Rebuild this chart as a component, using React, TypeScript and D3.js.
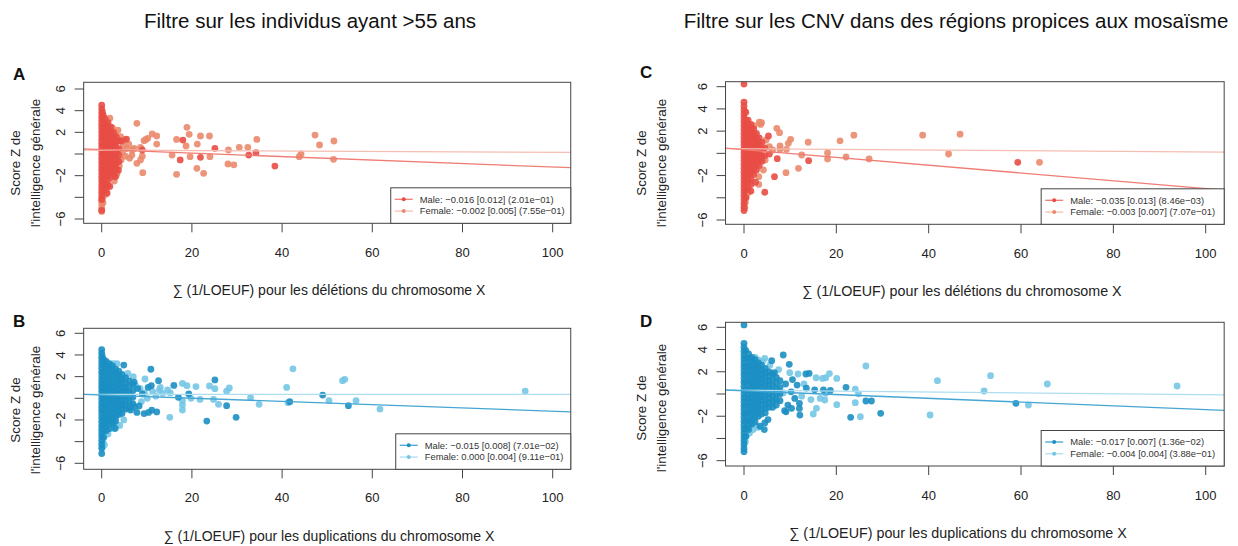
import React from "react";
import * as d3 from "d3";

type Pt = [number, number];

// ---------- Panel A: deletions, individuals older than 55 ----------
const delMaleA: Pt[] = [
  [0, 4.5], [0, 4.15], [0, 3.8], [0, 3.45], [0, 3.1], [0, 2.75], [0, 2.4], [0, 2.05], [0, 1.7], [0, 1.35],
  [0, 1.0], [0, 0.65], [0, 0.3], [0, -0.05], [0, -0.4], [0, -0.75], [0, -1.1], [0, -1.45], [0, -1.8], [0, -2.15],
  [0, -2.5], [0, -2.85], [0, -3.2], [0, -3.55], [0, -3.9], [0, -4.2], [0, -5.2],
  [0.3, 3.6], [0.3, 2.9], [0.3, 2.2], [0.3, 1.5], [0.3, 0.8], [0.3, 0.1], [0.3, -0.6], [0.3, -1.3], [0.3, -2.0], [0.3, -2.7], [0.3, -3.4],
  [0.8, 3.2], [0.8, 2.8], [0.8, 2.4], [0.8, 2.0], [0.8, 1.6], [0.8, 1.2], [0.8, 0.8], [0.8, 0.4], [0.8, 0.0], [0.8, -0.4],
  [0.8, -0.8], [0.8, -1.2], [0.8, -1.6], [0.8, -2.0], [0.8, -2.4], [0.8, -2.8], [0.8, -3.3],
  [1.4, 2.9], [1.4, 2.5], [1.4, 2.1], [1.4, 1.7], [1.4, 1.3], [1.4, 0.9], [1.4, 0.5], [1.4, 0.1], [1.4, -0.3], [1.4, -0.7],
  [1.4, -1.1], [1.4, -1.5], [1.4, -1.9], [1.4, -2.4], [1.4, -2.9],
  [2.0, 2.5], [2.0, 2.0], [2.0, 1.6], [2.0, 1.2], [2.0, 0.8], [2.0, 0.4], [2.0, 0.0], [2.0, -0.4], [2.0, -0.8], [2.0, -1.2], [2.0, -1.6], [2.0, -2.1],
  [2.6, 2.0], [2.6, 1.5], [2.6, 1.1], [2.6, 0.7], [2.6, 0.3], [2.6, -0.1], [2.6, -0.5], [2.6, -0.9], [2.6, -1.4], [2.6, -1.9],
  [3.2, 1.6], [3.2, 1.1], [3.2, 0.6], [3.2, 0.1], [3.2, -0.4], [3.2, -0.9], [3.2, -1.4],
  [3.8, 1.2], [3.8, 0.5], [3.8, -0.1], [3.8, -0.7],
  [5.5, 1.38], [9.0, 0.37], [3.7, -1.5], [3.0, -2.1], [1.8, -3.0], [1.2, -3.6], [4.4, 1.2],
  [18.0, 1.29], [17.4, -0.55], [21.9, -0.31], [25.1, 0.52], [32.6, -0.1], [34.2, 0.12], [38.4, -1.11],
];

const delFemaleA: Pt[] = [
  [0, -4.3], [0, -4.6], [0, -4.95], [0, -5.3], [0.3, -4.0], [0.3, -4.5], [0.2, 3.9], [0.5, 3.4],
  [1.0, -3.7], [1.8, 3.3], [2.6, 1.4], [2.4, 2.4], [3.0, 1.9], [3.4, -1.8], [4.3, -0.55], [3.9, -1.1], [3.2, -2.0], [1.0, -2.8],
  [4.8, 0.8], [5.5, 0.5], [6.8, 0.37], [7.2, 0.52], [4.6, 0.2], [5.2, -0.2], [6.0, 0.9], [6.2, -0.4], [4.2, 1.6], [3.6, 2.2],
  [5.0, 1.3], [2.8, -2.5], [9.8, 1.35], [10.2, 1.45], [8.6, 0.6], [9.0, -0.2],
  [7.8, 2.83], [11.2, 1.85], [12.2, 1.66], [12.2, 0.92], [9.4, 1.23], [8.6, -0.55], [7.8, -0.86], [9.1, -1.72], [6.7, -0.1],
  [16.6, 1.35], [18.9, 2.46], [19.4, 1.82], [18.7, 0.74], [21.9, 1.66], [23.9, 1.66], [21.2, 0.92], [15.6, -0.1], [19.6, -0.25],
  [24.0, -0.25], [21.1, -1.32], [22.6, -1.78], [16.6, -1.88], [28.1, 0.37], [30.5, 0.62], [32.4, 0.62], [34.4, 1.35],
  [28.0, -0.92], [29.3, -1.0], [44.2, 0.0], [43.8, -0.25], [47.3, 1.75], [48.3, 0.83], [51.5, 1.2], [51.4, -0.49],
];

// ---------- Panel B: duplications, individuals older than 55 ----------
const dupMaleB: Pt[] = [
  [0, 4.5], [0, 4.15], [0, 3.8], [0, 3.45], [0, 3.1], [0, 2.75], [0, 2.4], [0, 2.05], [0, 1.7], [0, 1.35],
  [0, 1.0], [0, 0.65], [0, 0.3], [0, -0.05], [0, -0.4], [0, -0.75], [0, -1.1], [0, -1.45], [0, -1.8], [0, -2.15],
  [0, -2.5], [0, -2.85], [0, -3.2], [0, -3.55], [0, -3.9], [0, -4.25], [0, -4.6], [0, -5.1],
  [0.4, 3.6], [0.4, 3.0], [0.4, 2.4], [0.4, 1.8], [0.4, 1.2], [0.4, 0.6], [0.4, 0.0], [0.4, -0.6], [0.4, -1.2], [0.4, -1.8], [0.4, -2.4], [0.4, -3.0], [0.4, -3.6],
  [1.0, 3.4], [1.0, 3.0], [1.0, 2.6], [1.0, 2.2], [1.0, 1.8], [1.0, 1.4], [1.0, 1.0], [1.0, 0.6], [1.0, 0.2], [1.0, -0.2],
  [1.0, -0.6], [1.0, -1.0], [1.0, -1.4], [1.0, -1.8], [1.0, -2.2], [1.0, -2.6], [1.0, -3.0],
  [1.7, 3.2], [1.7, 2.8], [1.7, 2.4], [1.7, 2.0], [1.7, 1.6], [1.7, 1.2], [1.7, 0.8], [1.7, 0.4], [1.7, 0.0], [1.7, -0.4],
  [1.7, -0.8], [1.7, -1.2], [1.7, -1.6], [1.7, -2.0], [1.7, -2.4], [1.7, -2.8],
  [2.4, 3.0], [2.4, 2.6], [2.4, 2.2], [2.4, 1.8], [2.4, 1.4], [2.4, 1.0], [2.4, 0.6], [2.4, 0.2], [2.4, -0.2], [2.4, -0.6],
  [2.4, -1.0], [2.4, -1.4], [2.4, -1.8], [2.4, -2.2],
  [3.1, 2.7], [3.1, 2.3], [3.1, 1.9], [3.1, 1.5], [3.1, 1.1], [3.1, 0.7], [3.1, 0.3], [3.1, -0.1], [3.1, -0.5], [3.1, -0.9],
  [3.1, -1.3], [3.1, -1.7], [3.1, -2.1],
  [3.8, 2.5], [3.8, 2.1], [3.8, 1.7], [3.8, 1.3], [3.8, 0.9], [3.8, 0.5], [3.8, 0.1], [3.8, -0.3], [3.8, -0.7], [3.8, -1.1], [3.8, -1.5],
  [4.5, 2.2], [4.5, 1.8], [4.5, 1.4], [4.5, 1.0], [4.5, 0.6], [4.5, 0.2], [4.5, -0.2], [4.5, -0.6], [4.5, -1.0], [4.5, -1.4],
  [5.3, 1.9], [5.3, 1.4], [5.3, 1.0], [5.3, 0.6], [5.3, 0.2], [5.3, -0.2], [5.3, -0.6], [5.3, -1.0],
  [6.1, 1.6], [6.1, 1.1], [6.1, 0.6], [6.1, 0.1], [6.1, -0.4], [6.1, -0.9],
  [6.9, 1.3], [6.9, 0.7], [6.9, 0.1], [6.9, -0.5],
  [3.0, -2.77], [2.6, -2.3], [6.4, -1.08], [7.2, -0.77], [9.4, -1.41], [11.1, -1.1], [12.2, -1.26], [10.3, 1.0], [7.2, 1.5],
  [4.9, 3.07], [10.9, 2.68], [12.6, 1.63], [11.0, 1.17], [16.0, 1.19], [8.3, -0.7], [8.0, 0.9], [9.0, 0.4], [7.8, -1.3], [10.4, -1.3],
  [25.1, 1.7], [19.3, 0.4], [17.0, 0.09], [27.7, -0.68], [23.3, -2.1], [29.8, -1.76], [41.7, -0.31], [49.0, 0.3], [54.7, -0.68],
];

const dupFemaleB: Pt[] = [
  [0.2, 3.9], [0.5, 3.3], [2.6, 3.2], [3.4, 3.2], [1.5, 3.0], [0.3, -4.0], [0.5, -3.6], [1.4, -3.3], [2.8, -2.8], [4.9, -2.0],
  [4.0, -2.5], [0.2, -4.5], [0.6, -4.3],
  [8.5, 0.92], [11.3, 0.62], [12.8, 0.77], [13.5, 0.46], [14.6, 0.77], [10.1, 0.0], [9.6, 1.78], [7.5, 1.2], [6.5, 0.3],
  [8.8, -0.3], [7.0, 2.0], [5.8, 2.3], [13.0, 1.0], [15.2, 0.5], [12.0, 0.2], [9.5, 0.5],
  [17.9, 1.37], [18.9, 1.17], [20.9, 1.08], [23.9, 1.14], [25.1, 0.89], [28.3, 0.96], [27.7, 0.65], [19.8, 0.0], [21.8, -0.1],
  [17.9, -0.22], [17.9, -0.62], [17.9, -1.08], [24.8, -0.1], [25.9, -0.56], [15.1, -1.76], [33.0, 0.06], [34.9, -0.56],
  [41.0, 1.0], [42.4, 2.72], [41.3, -0.4], [50.4, -0.22], [53.4, 1.63], [53.9, 1.75], [56.4, -0.22], [61.7, -0.99], [93.9, 0.67],
];

// ---------- Panel C: deletions, mosaicism-prone regions ----------
const delMaleC: Pt[] = [
  [0, 6.24], [0, 4.6], [0, 4.25], [0, 3.9], [0, 3.55], [0, 3.2], [0, 2.85], [0, 2.5], [0, 2.15], [0, 1.8], [0, 1.45],
  [0, 1.1], [0, 0.75], [0, 0.4], [0, 0.05], [0, -0.3], [0, -0.65], [0, -1.0], [0, -1.35], [0, -1.7], [0, -2.05],
  [0, -2.4], [0, -2.75], [0, -3.1], [0, -3.45], [0, -3.8], [0, -4.15], [0, -4.5], [0, -4.85], [0, -5.15],
  [0.4, 3.7], [0.4, 3.0], [0.4, 2.3], [0.4, 1.6], [0.4, 0.9], [0.4, 0.2], [0.4, -0.5], [0.4, -1.2], [0.4, -1.9], [0.4, -2.6], [0.4, -3.3], [0.4, -4.0],
  [0.9, 3.0], [0.9, 2.6], [0.9, 2.2], [0.9, 1.8], [0.9, 1.4], [0.9, 1.0], [0.9, 0.6], [0.9, 0.2], [0.9, -0.2], [0.9, -0.6],
  [0.9, -1.0], [0.9, -1.4], [0.9, -1.8], [0.9, -2.2], [0.9, -2.6], [0.9, -3.1],
  [1.5, 2.6], [1.5, 2.2], [1.5, 1.8], [1.5, 1.4], [1.5, 1.0], [1.5, 0.6], [1.5, 0.2], [1.5, -0.2], [1.5, -0.6], [1.5, -1.0],
  [1.5, -1.4], [1.5, -1.8], [1.5, -2.3], [1.5, -2.8],
  [2.1, 2.2], [2.1, 1.8], [2.1, 1.4], [2.1, 1.0], [2.1, 0.6], [2.1, 0.2], [2.1, -0.2], [2.1, -0.6], [2.1, -1.0], [2.1, -1.4], [2.1, -1.9],
  [2.7, 1.8], [2.7, 1.4], [2.7, 1.0], [2.7, 0.6], [2.7, 0.2], [2.7, -0.2], [2.7, -0.6], [2.7, -1.0], [2.7, -1.5],
  [3.3, 1.4], [3.3, 0.9], [3.3, 0.4], [3.3, -0.1], [3.3, -0.6], [3.3, -1.1],
  [3.9, 1.0], [3.9, 0.4], [3.9, -0.2], [3.9, -0.7], [4.5, 0.5], [4.5, -0.2],
  [5.3, 1.56], [5.5, -0.06], [7.2, -0.48], [14.0, -0.66], [6.6, -2.1], [4.5, -3.5], [1.5, -3.4], [2.5, -2.6], [59.3, -0.81],
];

const delFemaleC: Pt[] = [
  [3.3, 2.8], [3.6, 2.6], [2.2, 2.5], [3.8, 2.76], [7.1, 2.25], [7.7, 1.86], [10.1, 1.26], [9.6, 0.9], [7.8, 0.66], [7.8, 0.36],
  [9.2, 0.36], [12.5, -0.15], [13.9, 1.0], [11.8, -1.35], [9.1, -1.74], [3.2, -2.8], [3.2, -2.1], [4.8, 1.2], [5.5, 0.6],
  [6.2, 0.3], [4.2, -1.5], [4.6, -0.6], [0.3, -4.4], [0.2, -4.9], [0.5, -3.9], [1.0, -3.5],
  [20.8, 1.13], [23.8, 1.64], [18.1, 0.03], [18.1, -0.5], [22.1, -0.33], [27.1, -0.5], [38.7, 1.64], [46.8, 1.73],
  [44.3, -0.06], [64.0, -0.81],
];

// ---------- Panel D: duplications, mosaicism-prone regions ----------
const dupMaleD: Pt[] = [
  [0, 6.21], [0, 4.56], [0, 4.2], [0, 3.85], [0, 3.5], [0, 3.15], [0, 2.8], [0, 2.45], [0, 2.1], [0, 1.75], [0, 1.4],
  [0, 1.05], [0, 0.7], [0, 0.35], [0, 0.0], [0, -0.35], [0, -0.7], [0, -1.05], [0, -1.4], [0, -1.75], [0, -2.1],
  [0, -2.45], [0, -2.8], [0, -3.15], [0, -3.5], [0, -3.85], [0, -4.2], [0, -4.55], [0, -4.9], [0, -5.19],
  [0.4, 3.9], [0.4, 3.2], [0.4, 2.5], [0.4, 1.8], [0.4, 1.1], [0.4, 0.4], [0.4, -0.3], [0.4, -1.0], [0.4, -1.7], [0.4, -2.4], [0.4, -3.1], [0.4, -3.8],
  [1.0, 3.6], [1.0, 3.2], [1.0, 2.8], [1.0, 2.4], [1.0, 2.0], [1.0, 1.6], [1.0, 1.2], [1.0, 0.8], [1.0, 0.4], [1.0, 0.0],
  [1.0, -0.4], [1.0, -0.8], [1.0, -1.2], [1.0, -1.6], [1.0, -2.0], [1.0, -2.4], [1.0, -2.8], [1.0, -3.2],
  [1.7, 3.3], [1.7, 2.9], [1.7, 2.5], [1.7, 2.1], [1.7, 1.7], [1.7, 1.3], [1.7, 0.9], [1.7, 0.5], [1.7, 0.1], [1.7, -0.3],
  [1.7, -0.7], [1.7, -1.1], [1.7, -1.5], [1.7, -1.9], [1.7, -2.3], [1.7, -2.7],
  [2.4, 3.1], [2.4, 2.7], [2.4, 2.3], [2.4, 1.9], [2.4, 1.5], [2.4, 1.1], [2.4, 0.7], [2.4, 0.3], [2.4, -0.1], [2.4, -0.5],
  [2.4, -0.9], [2.4, -1.3], [2.4, -1.7], [2.4, -2.1], [2.4, -2.5],
  [3.1, 2.8], [3.1, 2.4], [3.1, 2.0], [3.1, 1.6], [3.1, 1.2], [3.1, 0.8], [3.1, 0.4], [3.1, 0.0], [3.1, -0.4], [3.1, -0.8],
  [3.1, -1.2], [3.1, -1.6], [3.1, -2.0],
  [3.8, 2.6], [3.8, 2.2], [3.8, 1.8], [3.8, 1.4], [3.8, 1.0], [3.8, 0.6], [3.8, 0.2], [3.8, -0.2], [3.8, -0.6], [3.8, -1.0], [3.8, -1.4], [3.8, -1.8],
  [4.6, 2.3], [4.6, 1.9], [4.6, 1.5], [4.6, 1.1], [4.6, 0.7], [4.6, 0.3], [4.6, -0.1], [4.6, -0.5], [4.6, -0.9], [4.6, -1.3], [4.6, -1.7],
  [5.4, 2.0], [5.4, 1.6], [5.4, 1.2], [5.4, 0.8], [5.4, 0.4], [5.4, 0.0], [5.4, -0.4], [5.4, -0.8], [5.4, -1.2],
  [6.2, 1.8], [6.2, 1.3], [6.2, 0.8], [6.2, 0.3], [6.2, -0.2], [6.2, -0.7], [6.2, -1.2],
  [7.0, 1.5], [7.0, 1.0], [7.0, 0.5], [7.0, 0.0], [7.0, -0.5], [7.0, -1.0],
  [7.8, 1.2], [7.8, 0.6], [7.8, 0.0], [7.8, -0.6],
  [8.5, 3.51], [9.8, 2.67], [6.0, 3.0], [6.6, 1.92], [13.4, 1.8], [14.1, 1.85], [22.1, 0.6], [18.7, 0.32], [17.2, 0.38],
  [15.3, 0.38], [13.5, 0.53], [26.4, -0.63], [27.6, -0.63], [29.6, -1.74], [23.1, -2.1], [58.9, -0.84], [9.0, 0.9],
  [10.2, 0.2], [11.0, -0.4], [9.5, -1.0], [12.0, -1.3], [8.8, -1.5], [10.5, 1.3], [11.5, 0.8], [4.5, -2.6], [3.5, -2.9],
  [5.2, -2.3], [12.0, -0.84], [10.3, -1.29], [12.1, -1.9], [9.1, -1.6], [4.4, -3.2],
];

const dupFemaleD: Pt[] = [
  [3.1, 3.06], [2.4, 3.3], [4.5, 3.2], [4.0, 2.9], [9.9, 1.92], [11.7, 1.8], [17.0, 1.4], [17.7, 1.46], [18.5, 1.84], [20.1, 1.4],
  [15.6, 1.46], [24.1, 0.44], [24.8, 0.02], [26.4, 2.52], [24.1, -0.78], [25.2, -2.04], [20.1, -0.96], [16.5, -0.4], [14.5, -0.5],
  [15.0, -1.8], [15.7, -1.29], [17.5, -0.54], [17.7, 0.06], [13.0, 0.9], [12.5, -0.2], [8.5, 0.1], [7.5, 2.2], [6.5, -0.5],
  [2.3, -2.8], [3.0, -3.0], [0.3, -4.3], [0.5, -3.8], [1.2, -3.5], [2.0, -3.2], [5.6, 2.6],
  [40.3, -1.89], [41.9, 1.2], [52.0, 0.27], [53.4, 1.65], [61.6, -0.99], [65.7, 0.9], [93.8, 0.72],
];

// Linear fits per sex: [intercept, slope]
const fitA = { male: [0.4, -0.016] as Pt, female: [0.36, -0.002] as Pt };
const fitB = { male: [0.31, -0.015] as Pt, female: [0.37, 0.0] as Pt };
const fitC = { male: [0.33, -0.035] as Pt, female: [0.42, -0.003] as Pt };
const fitD = { male: [0.29, -0.017] as Pt, female: [0.34, -0.004] as Pt };

const legendA = ["Male: \u22120.016 [0.012] (2.01e\u221201)", "Female: \u22120.002 [0.005] (7.55e\u221201)"];
const legendB = ["Male: \u22120.015 [0.008] (7.01e\u221202)", "Female: 0.000 [0.004] (9.11e\u221201)"];
const legendC = ["Male: \u22120.035 [0.013] (8.46e\u221203)", "Female: \u22120.003 [0.007] (7.07e\u221201)"];
const legendD = ["Male: \u22120.017 [0.007] (1.36e\u221202)", "Female: \u22120.004 [0.004] (3.88e\u221201)"];

const xTicks = [0, 20, 40, 60, 80, 100];
const yTicks = [-6, -4, -2, 0, 2, 4, 6];
const yTickLabels: Record<number, string> = { 6: "6", 4: "4", 2: "2", [-2]: "\u22122", [-6]: "\u22126" };

const titles = ["Filtre sur les individus ayant >55 ans", "Filtre sur les CNV dans des r\u00e9gions propices aux mosa\u00efsme"];
const xTitleDel = "\u2211 (1/LOEUF) pour les d\u00e9l\u00e9tions du chromosome X";
const xTitleDup = "\u2211 (1/LOEUF) pour les duplications du chromosome X";
const yTitle = ["Score Z de", "l'intelligence g\u00e9n\u00e9rale"];

const FONT = "'Liberation Sans', Arial, Helvetica, sans-serif";

const redPalette = { male: "#E84C45", female: "#EA8A6D", maleLine: "#EF7D74", femaleLine: "#F6BDB2" };
const bluePalette = { male: "#1B8FC3", female: "#74C6E6", maleLine: "#45A6D3", femaleLine: "#AEDDF0" };

type Palette = typeof redPalette;

interface PanelProps {
  letter: string;
  male: Pt[];
  female: Pt[];
  fit: { male: Pt; female: Pt };
  legend: string[];
  palette: Palette;
  xTitle: string;
  // layout
  x0: number; x100: number; // pixel of x = 0 and x = 100
  yLow: number; yHigh: number; // pixel of y = -6 and y = 6
  top: number; bottom: number; // frame edges
  xTitleX: number;
  xTitleSize: number;
  letterX: number;
  letterY: number;
  yTitleX: [number, number];
  yTitleY: number;
  tickLabelOffset: number;
  legendWidth: number;
}

function Panel(p: PanelProps) {
  const x = d3.scaleLinear().domain([0, 100]).range([p.x0, p.x100]);
  const y = d3.scaleLinear().domain([-6, 6]).range([p.yLow, p.yHigh]);
  const left = x(-4);
  const right = x(104);
  const clipId = `clip-${p.letter}`;
  const fitPath = (c: Pt) =>
    d3.line<number>().x((v) => x(v)).y((v) => y(c[0] + c[1] * v))([-4, 104]) || "";
  const tick = 9;
  const lgLeft = right - p.legendWidth;
  const lgTop = p.bottom - 35.5;
  const rows = [
    { text: p.legend[0], line: p.palette.maleLine, dot: p.palette.male },
    { text: p.legend[1], line: p.palette.femaleLine, dot: p.palette.female },
  ];
  return (
    <g>
      <defs>
        <clipPath id={clipId}>
          <rect x={left} y={p.top} width={right - left} height={p.bottom - p.top} />
        </clipPath>
      </defs>
      <text x={p.letterX} y={p.letterY} fontSize={17} fontWeight="bold" fill="#111">{p.letter}</text>
      <g clipPath={`url(#${clipId})`}>
        {p.female.map((d, i) => (
          <circle key={`f${i}`} cx={x(d[0])} cy={y(d[1])} r={3.4} fill={p.palette.female} fillOpacity={0.9} />
        ))}
        {p.male.map((d, i) => (
          <circle key={`m${i}`} cx={x(d[0])} cy={y(d[1])} r={3.4} fill={p.palette.male} fillOpacity={0.9} />
        ))}
        <path d={fitPath(p.fit.female)} stroke={p.palette.femaleLine} strokeWidth={1.3} fill="none" />
        <path d={fitPath(p.fit.male)} stroke={p.palette.maleLine} strokeWidth={1.3} fill="none" />
      </g>
      <rect x={left} y={p.top} width={right - left} height={p.bottom - p.top} fill="none" stroke="#444" strokeWidth={1} />
      {/* legend */}
      <rect x={lgLeft} y={lgTop} width={p.legendWidth} height={p.bottom - lgTop} fill="#fff" stroke="#444" strokeWidth={1} />
      {rows.map((r, i) => {
        const ry = lgTop + 11.5 + i * 11.8;
        return (
          <g key={i}>
            <line x1={lgLeft + 4} x2={lgLeft + 22} y1={ry} y2={ry} stroke={r.line} strokeWidth={1.3} />
            <circle cx={lgLeft + 13} cy={ry} r={2} fill={r.dot} />
            <text x={lgLeft + 29} y={ry} dy="0.35em" fontSize={9.4} fill="#333">{r.text}</text>
          </g>
        );
      })}
      {/* x axis */}
      {xTicks.map((t) => (
        <g key={`xt${t}`}>
          <line x1={x(t)} x2={x(t)} y1={p.bottom} y2={p.bottom + tick} stroke="#444" />
          <text x={x(t)} y={p.bottom + p.tickLabelOffset} dy="0.35em" textAnchor="middle" fontSize={13} fill="#222">{t}</text>
        </g>
      ))}
      <text x={p.xTitleX} y={p.bottom + 67} dy="0.35em" textAnchor="middle" fontSize={p.xTitleSize} fill="#222">{p.xTitle}</text>
      {/* y axis */}
      {yTicks.map((t) => (
        <g key={`yt${t}`}>
          <line x1={left - tick} x2={left} y1={y(t)} y2={y(t)} stroke="#444" />
          {yTickLabels[t] !== undefined && (
            <text transform={`translate(${left - 23.5},${y(t)}) rotate(-90)`} dy="0.35em" textAnchor="middle" fontSize={13} fill="#222">
              {yTickLabels[t]}
            </text>
          )}
        </g>
      ))}
      {yTitle.map((s, i) => (
        <text key={s} transform={`translate(${p.yTitleX[i]},${p.yTitleY}) rotate(-90)`} dy="0.35em" textAnchor="middle" fontSize={13.4} fill="#222">
          {s}
        </text>
      ))}
    </g>
  );
}

export default function App() {
  return (
    <svg width={1238} height={546} style={{ position: "absolute", left: 0, top: 0 }} fontFamily={FONT}>
      <rect width={1238} height={546} fill="#fff" />
      <text x={310} y={28} textAnchor="middle" fontSize={20.5} fill="#111">{titles[0]}</text>
      <text x={956} y={28} textAnchor="middle" fontSize={20.5} fill="#111">{titles[1]}</text>
      <Panel letter="A" male={delMaleA} female={delFemaleA} fit={fitA} legend={legendA} palette={redPalette} xTitle={xTitleDel}
        x0={101.7} x100={552.7} yLow={219} yHigh={89} top={82.3} bottom={223.3} xTitleX={329} xTitleSize={14} letterX={13} letterY={80}
        yTitleX={[15.5, 35]} yTitleY={163} tickLabelOffset={29} legendWidth={180} />
      <Panel letter="B" male={dupMaleB} female={dupFemaleB} fit={fitB} legend={legendB} palette={bluePalette} xTitle={xTitleDup}
        x0={101.7} x100={552.7} yLow={463.3} yHigh={333.3} top={328.3} bottom={469.3} xTitleX={329} xTitleSize={14} letterX={13} letterY={326.7}
        yTitleX={[15.5, 35]} yTitleY={410} tickLabelOffset={28} legendWidth={175} />
      <Panel letter="C" male={delMaleC} female={delFemaleC} fit={fitC} legend={legendC} palette={redPalette} xTitle={xTitleDel}
        x0={744} x100={1205.7} yLow={220} yHigh={86.7} top={81.7} bottom={224.3} xTitleX={962} xTitleSize={14.3} letterX={640} letterY={78.3}
        yTitleX={[641, 661]} yTitleY={163} tickLabelOffset={29} legendWidth={183} />
      <Panel letter="D" male={dupMaleD} female={dupFemaleD} fit={fitD} legend={legendD} palette={bluePalette} xTitle={xTitleDup}
        x0={744} x100={1205.7} yLow={460.7} yHigh={327.3} top={322.3} bottom={466} xTitleX={958} xTitleSize={14.3} letterX={640} letterY={326.7}
        yTitleX={[641, 661]} yTitleY={408} tickLabelOffset={29} legendWidth={183} />
    </svg>
  );
}
